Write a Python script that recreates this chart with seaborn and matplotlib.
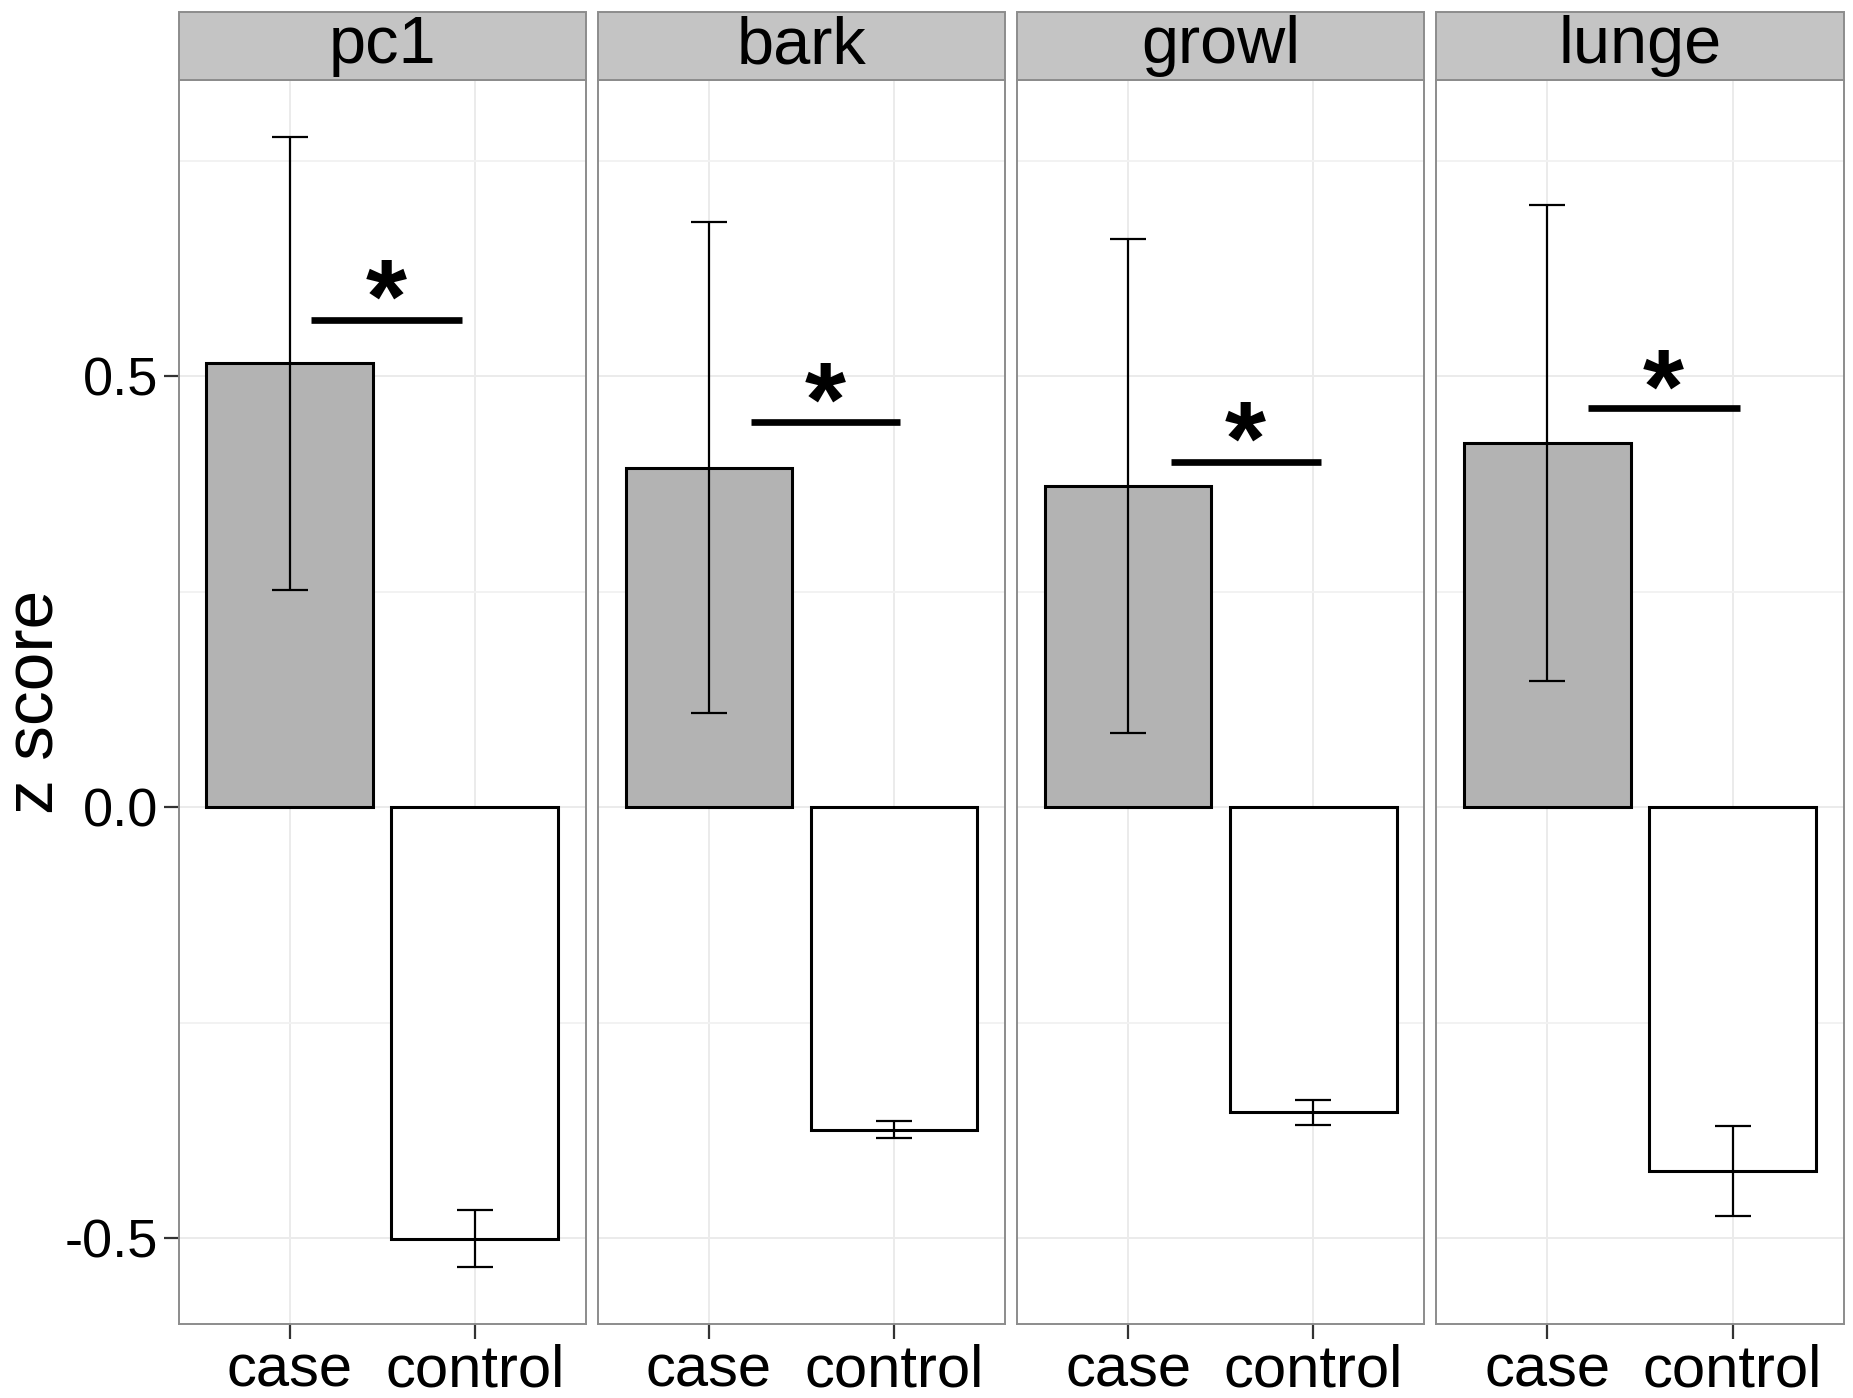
import numpy as np
import pandas as pd
import matplotlib
matplotlib.use("Agg")
import matplotlib.pyplot as plt
import seaborn as sns
from matplotlib.patches import Rectangle
from matplotlib.ticker import MultipleLocator

# ---- data ----
measures = ["pc1", "bark", "growl", "lunge"]
groups = ["case", "control"]
case_mean = [0.515, 0.394, 0.373, 0.4225]
case_se = [0.263, 0.285, 0.287, 0.276]
control_mean = [-0.501, -0.3745, -0.354, -0.4225]
control_se = [0.033, 0.010, 0.0145, 0.052]
# significance bar (x in category units, 0 = case, 1 = control)
sig_x0 = [0.114, 0.229, 0.229, 0.22]
sig_x1 = [0.93, 1.03, 1.04, 1.04]
sig_y = [0.565, 0.447, 0.4005, 0.4636]
star_x = [0.52, 0.63, 0.63, 0.625]
star_y = [0.583, 0.463, 0.418, 0.478]
sig_label = ["*", "*", "*", "*"]

rows = []
for i, m in enumerate(measures):
    rows.append(dict(measure=m, group="case", mean=case_mean[i], se=case_se[i]))
    rows.append(dict(measure=m, group="control", mean=control_mean[i], se=control_se[i]))
df = pd.DataFrame(rows)

sns.set_theme(style="white")
plt.rcParams['font.family'] = ['Liberation Sans', 'DejaVu Sans']

W, H = 1853, 1398
fig, axes = plt.subplots(1, 4, figsize=(W / 100, H / 100), dpi=100, sharey=True)
fig.subplots_adjust(left=178.5 / W, right=1843.6 / W, top=1 - 80.4 / H,
                    bottom=1 - 1323.6 / H, wspace=0.0295)

palette = {"case": "#B3B3B3", "control": "#FFFFFF"}
ymin, ymax = -0.5995, 0.8436
strip_h = 68.5 / 1243.2

for i, (ax, m) in enumerate(zip(axes, measures)):
    sub = df[df.measure == m]
    ax.set_axisbelow(True)
    sns.barplot(data=sub, x="group", y="mean", hue="group", order=groups,
                hue_order=groups, palette=palette, edgecolor="black",
                linewidth=2.2, width=0.9, errorbar=None, legend=False, ax=ax,
                saturation=1, zorder=2)
    xs = np.arange(len(groups))
    ax.errorbar(xs, sub["mean"].values, yerr=sub["se"].values, fmt="none",
                ecolor="black", elinewidth=1.6, capsize=13, capthick=1.6, zorder=3)
    ax.plot([sig_x0[i], sig_x1[i]], [sig_y[i], sig_y[i]], color="black",
            lw=4.8, solid_capstyle="butt", zorder=4)
    ax.text(star_x[i], star_y[i], sig_label[i], ha="center", va="center",
            fontsize=76, fontweight="bold", color="black", zorder=4)

    ax.set_xlim(-0.6, 1.6)
    ax.set_ylim(ymin, ymax)
    ax.yaxis.set_major_locator(MultipleLocator(0.5))
    ax.yaxis.set_minor_locator(MultipleLocator(0.25))
    ax.grid(True, which="major", axis="both", color="#EBEBEB", lw=1.4, zorder=0)
    ax.grid(True, which="minor", axis="y", color="#F2F2F2", lw=1.4, zorder=0)
    for s in ax.spines.values():
        s.set_color("#8C8C8C")
        s.set_linewidth(1.4)
        s.set_visible(True)
    ax.set_xlabel("")
    ax.set_ylabel("")
    ax.tick_params(axis="x", which="major", length=10.5, width=1.6, color="#333333",
                   labelsize=43, pad=4, bottom=True, labelcolor="black")
    ax.tick_params(axis="y", which="major", length=10.5, width=1.6, color="#333333",
                   labelsize=39, pad=4, left=(i == 0), labelcolor="black")
    ax.tick_params(axis="y", which="minor", length=0)

    # facet strip
    ax.add_patch(Rectangle((0, 1), 1, strip_h, transform=ax.transAxes,
                           facecolor="#C4C4C4", edgecolor="#8C8C8C", lw=1.4,
                           clip_on=False, zorder=5))
    ax.text(0.5, 1 + strip_h / 2, m, transform=ax.transAxes, ha="center",
            va="center", fontsize=48, color="black", zorder=6)

axes[0].set_yticks([-0.5, 0.0, 0.5])
axes[0].set_yticklabels(["-0.5", "0.0", "0.5"])
axes[0].set_ylabel("z score", fontsize=50, color="black")
axes[0].yaxis.set_label_coords(-0.272, 0.5)

fig.savefig("out.png", dpi=100, facecolor="white")
